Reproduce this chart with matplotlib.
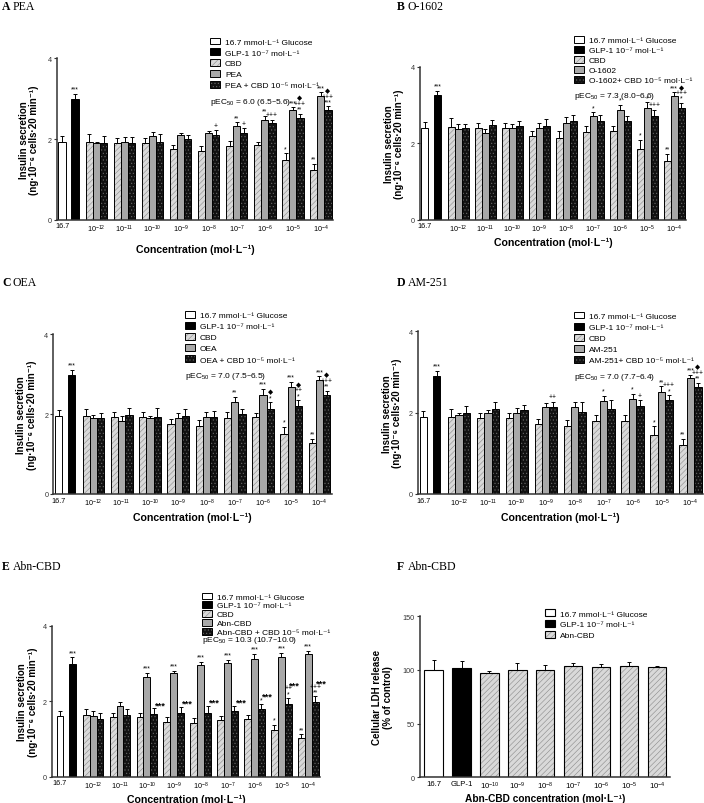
import matplotlib
matplotlib.use('Agg')
import numpy as np
import matplotlib.pyplot as plt
from matplotlib.colors import to_rgba

plt.rcParams['font.family'] = ['Liberation Sans', 'DejaVu Sans']
plt.rcParams['mathtext.default'] = 'regular'
plt.rcParams['hatch.linewidth'] = 0.4

W, H = 704, 804

conc_labels = ['10$^{-12}$', '10$^{-11}$', '10$^{-10}$', '10$^{-9}$', '10$^{-8}$',
               '10$^{-7}$', '10$^{-6}$', '10$^{-5}$', '10$^{-4}$']

# A PEA
a_ctrl = [1.93, 2.99]
a_ctrl_err = [0.15, 0.13]
a_cbd = [1.93, 1.90, 1.89, 1.75, 1.70, 1.83, 1.84, 1.49, 1.23]
a_cbd_err = [0.19, 0.12, 0.13, 0.11, 0.13, 0.12, 0.09, 0.16, 0.15]
a_ag = [1.89, 1.93, 2.07, 2.10, 2.14, 2.32, 2.48, 2.72, 3.07]
a_ag_err = [0.04, 0.13, 0.11, 0.05, 0.05, 0.09, 0.10, 0.07, 0.09]
a_mix = [1.90, 1.90, 1.93, 1.99, 2.10, 2.14, 2.39, 2.52, 2.73]
a_mix_err = [0.18, 0.14, 0.19, 0.11, 0.12, 0.13, 0.09, 0.10, 0.08]
a_cbd_sig = ['', '', '', '', '', '', '', '*', '**']
a_ag_sig = ['', '', '', '', '', '**', '**', '***', '***']
a_mix_sig = ['', '', '', '', '+', '+', '+++', '◆\n+++\n**', '◆\n+++\n***']

# B O-1602
b_ctrl = [2.41, 3.26]
b_ctrl_err = [0.15, 0.11]
b_cbd = [2.43, 2.39, 2.39, 2.18, 2.13, 2.28, 2.31, 1.86, 1.54]
b_cbd_err = [0.23, 0.15, 0.14, 0.15, 0.18, 0.16, 0.13, 0.23, 0.18]
b_ag = [2.37, 2.27, 2.39, 2.39, 2.54, 2.72, 2.87, 2.92, 3.24]
b_ag_err = [0.13, 0.10, 0.11, 0.14, 0.14, 0.09, 0.13, 0.15, 0.09]
b_mix = [2.40, 2.48, 2.44, 2.46, 2.57, 2.59, 2.59, 2.71, 2.92]
b_mix_err = [0.10, 0.13, 0.15, 0.17, 0.18, 0.16, 0.13, 0.17, 0.13]
b_cbd_sig = ['', '', '', '', '', '', '', '*', '**']
b_ag_sig = ['', '', '', '', '', '*', '*', '*', '***']
b_mix_sig = ['', '', '', '', '', '', '', '+++', '◆\n+++\n*']

# C OEA
c_ctrl = [1.95, 2.98]
c_ctrl_err = [0.15, 0.13]
c_cbd = [1.96, 1.94, 1.92, 1.75, 1.71, 1.90, 1.92, 1.50, 1.27]
c_cbd_err = [0.17, 0.12, 0.13, 0.13, 0.14, 0.15, 0.10, 0.19, 0.12]
c_ag = [1.90, 1.84, 1.90, 1.90, 1.94, 2.30, 2.49, 2.67, 2.86]
c_ag_err = [0.09, 0.12, 0.06, 0.12, 0.12, 0.14, 0.14, 0.14, 0.09]
c_mix = [1.90, 1.98, 1.94, 1.96, 1.94, 2.00, 2.13, 2.20, 2.48]
c_mix_err = [0.13, 0.17, 0.21, 0.17, 0.15, 0.13, 0.17, 0.15, 0.11]
c_cbd_sig = ['', '', '', '', '', '', '', '*', '**']
c_ag_sig = ['', '', '', '', '', '**', '***', '***', '***']
c_mix_sig = ['', '', '', '', '', '', '◆\n*', '◆\n++\n*', '◆\n+++\n**']

# D AM-251
d_ctrl = [1.89, 2.91]
d_ctrl_err = [0.16, 0.12]
d_cbd = [1.90, 1.87, 1.87, 1.72, 1.68, 1.79, 1.80, 1.46, 1.20]
d_cbd_err = [0.19, 0.12, 0.12, 0.12, 0.14, 0.15, 0.13, 0.20, 0.15]
d_ag = [1.93, 1.99, 1.99, 2.13, 2.15, 2.28, 2.34, 2.50, 2.85]
d_ag_err = [0.06, 0.08, 0.12, 0.10, 0.10, 0.14, 0.12, 0.15, 0.08]
d_mix = [1.99, 2.09, 2.07, 2.13, 2.02, 2.09, 2.17, 2.30, 2.62]
d_mix_err = [0.18, 0.18, 0.12, 0.14, 0.25, 0.21, 0.13, 0.13, 0.11]
d_cbd_sig = ['', '', '', '', '', '', '', '*', '**']
d_ag_sig = ['', '', '', '', '', '*', '*', '**', '***']
d_mix_sig = ['', '', '', '++', '', '', '+', '+++\n*', '◆\n+++\n**']

# E Abn-CBD
e_ctrl = [1.62, 2.98]
e_ctrl_err = [0.13, 0.18]
e_cbd = [1.63, 1.59, 1.59, 1.46, 1.42, 1.50, 1.53, 1.25, 1.02]
e_cbd_err = [0.16, 0.11, 0.10, 0.11, 0.13, 0.10, 0.11, 0.13, 0.11]
e_ag = [1.62, 1.86, 2.65, 2.75, 2.97, 3.00, 3.13, 3.16, 3.25]
e_ag_err = [0.13, 0.11, 0.11, 0.06, 0.08, 0.10, 0.12, 0.13, 0.09]
e_mix = [1.53, 1.64, 1.66, 1.69, 1.70, 1.73, 1.79, 1.92, 1.97]
e_mix_err = [0.16, 0.15, 0.15, 0.15, 0.18, 0.15, 0.13, 0.16, 0.16]
e_cbd_sig = ['', '', '', '', '', '', '', '*', '**']
e_ag_sig = ['', '', '***', '***', '***', '***', '***', '***', '***']
e_mix_sig = ['', '', '', '', '', '', '*', '++\n*', '+++\n**']
e_mix_big = ['', '', '***', '***', '***', '***', '***', '***', '***']

# F Abn-CBD LDH
f_labels = ['16.7', 'GLP-1', '10$^{-10}$', '10$^{-9}$', '10$^{-8}$', '10$^{-7}$',
            '10$^{-6}$', '10$^{-5}$', '10$^{-4}$']
f_ldh = [100.3, 101.5, 96.9, 100.3, 100.3, 103.4, 102.5, 104.0, 102.5]
f_ldh_err = [8.7, 6.5, 2.5, 6.2, 4.4, 2.8, 3.1, 3.8, 1.5]

CBD_FACE = '#d9d9d9'
AG_FACE = '#a8a8a8'
MIX_FACE = '#111111'
LEG_FS = 6.0

fig = plt.figure(figsize=(W / 100, H / 100), dpi=100)


def px_axes(l, t, r, b):
    return fig.add_axes([l / W, 1 - b / H, (r - l) / W, (b - t) / H])


def set_hatch_col(bars, col):
    for p in bars:
        p._hatch_color = to_rgba(col)


def up_err(ax, x, y, e):
    ax.errorbar(x, y, yerr=[np.zeros(len(e)), e], fmt='none', ecolor='black',
                elinewidth=0.7, capsize=1.6, capthick=0.7, zorder=3)


def sig_text(ax, x, tops, sigs, dy):
    for xi, t, s in zip(x, tops, sigs):
        if s:
            ax.text(xi, t + dy, s, ha='center', va='bottom', fontsize=4.8,
                    linespacing=0.72, family=['Liberation Sans', 'DejaVu Sans'])


def clean(ax):
    for s in ['top', 'right']:
        ax.spines[s].set_visible(False)
    for s in ['left', 'bottom']:
        ax.spines[s].set_linewidth(1.1)
        ax.spines[s].set_color('#333333')
    ax.tick_params(axis='x', length=0, labelsize=5.2, pad=2)
    ax.tick_params(axis='y', length=2, width=0.8, labelsize=5.2, pad=1.5, colors='#333333')


def title(x, y, letter, name):
    fig.text(x / W, 1 - y / H, letter, fontsize=8.5, weight='bold',
             family='Liberation Serif', va='center')
    fig.text((x + 10.5) / W, 1 - y / H, name, fontsize=8.5,
             family='Liberation Serif', va='center')


def insulin_panel(p):
    ax = px_axes(*p['box'])
    ctrl_x = np.array([0, 1.8])
    g = 4.8 + 3.9 * np.arange(9)
    w = 1.0

    hg = ax.bar(ctrl_x[0], p['ctrl'][0], w, color='white', edgecolor='black', linewidth=0.7)
    hl = ax.bar(ctrl_x[1], p['ctrl'][1], w, color='black', edgecolor='black', linewidth=0.7)
    hc = ax.bar(g - w, p['cbd'], w, color=CBD_FACE, edgecolor='black', linewidth=0.7,
                hatch='//////')
    set_hatch_col(hc, '#8a8a8a')
    ha = ax.bar(g, p['ag'], w, color=AG_FACE, edgecolor='black', linewidth=0.7)
    hm = ax.bar(g + w, p['mix'], w, color=MIX_FACE, edgecolor='black', linewidth=0.7,
                hatch='.....')
    set_hatch_col(hm, '#6a6a6a')

    up_err(ax, ctrl_x, p['ctrl'], p['ctrl_err'])
    up_err(ax, g - w, p['cbd'], p['cbd_err'])
    up_err(ax, g, p['ag'], p['ag_err'])
    up_err(ax, g + w, p['mix'], p['mix_err'])

    dy = 0.03
    sig_text(ax, ctrl_x, np.add(p['ctrl'], p['ctrl_err']), ['', '***'], dy)
    sig_text(ax, g - w, np.add(p['cbd'], p['cbd_err']), p['cbd_sig'], dy)
    sig_text(ax, g, np.add(p['ag'], p['ag_err']), p['ag_sig'], dy)
    mix_top = np.add(p['mix'], p['mix_err'])
    sig_text(ax, g + w, mix_top, p['mix_sig'], dy)
    if 'mix_big' in p:
        for xi, t, s, small in zip(g + w, mix_top, p['mix_big'], p['mix_sig']):
            if s:
                n = len(small.split('\n')) if small else 0
                ax.text(xi + 0.8, t - 0.02 + 0.13 * n, s, ha='center', va='bottom',
                        fontsize=6.8, weight='bold')

    ax.set_xlim(p.get('xl', -0.75), 37.7)
    ax.set_ylim(0, 4)
    ax.set_yticks([0, 2, 4])
    ax.set_xticks(np.concatenate([[0], g]))
    ax.set_xticklabels(['16.7'] + conc_labels)
    clean(ax)
    ax.set_xlabel('Concentration (mol·L⁻¹)', fontsize=7.6, weight='bold',
                  labelpad=p['xpad'])
    ax.set_ylabel('Insulin secretion\n(ng·10⁻⁶ cells·20 min⁻¹)', fontsize=7.0,
                  weight='bold', labelpad=p['ypad'], linespacing=1.1)

    name = p['name']
    labels = ['16.7 mmol·L⁻¹ Glucose', 'GLP-1 10⁻⁷ mol·L⁻¹', 'CBD', name,
              p.get('mix_name', name + ' + CBD 10⁻⁵ mol·L⁻¹')]
    lx, ly = p['leg']
    ax.legend([hg, hl, hc, ha, hm], labels, loc='upper left',
              bbox_to_anchor=(lx / W, 1 - (ly - 4.8) / H), bbox_transform=fig.transFigure,
              frameon=False, fontsize=LEG_FS, handlelength=1.2,
              handleheight=p.get('hh', 0.9), handletextpad=0.6, labelspacing=p['sp'],
              borderpad=0, borderaxespad=0)
    fig.text(lx / W, 1 - p['pec_y'] / H, p['pec'], fontsize=LEG_FS, va='center')
    title(p['title'][0], p['title'][1], p['title'][2], name)
    return ax


panels = [
    dict(box=(56.7, 59.3, 333, 220.7), ctrl=a_ctrl, ctrl_err=a_ctrl_err, cbd=a_cbd,
         cbd_err=a_cbd_err, ag=a_ag, ag_err=a_ag_err, mix=a_mix, mix_err=a_mix_err,
         cbd_sig=a_cbd_sig, ag_sig=a_ag_sig, mix_sig=a_mix_sig, name='PEA',
         pec='pEC$_{50}$ = 6.0 (6.5–5.6)', leg=(210, 43.3), pec_y=102.7, sp=0.3,
         xpad=7, ypad=6, title=(2, 7, 'A')),
    dict(box=(419.7, 67.7, 686, 220.7), ctrl=b_ctrl, ctrl_err=b_ctrl_err, cbd=b_cbd,
         cbd_err=b_cbd_err, ag=b_ag, ag_err=b_ag_err, mix=b_mix, mix_err=b_mix_err,
         cbd_sig=b_cbd_sig, ag_sig=b_ag_sig, mix_sig=b_mix_sig, name='O-1602',
         mix_name='O-1602+ CBD 10⁻⁵ mol·L⁻¹',
         pec='pEC$_{50}$ = 7.3 (8.0–6.6)', leg=(574, 41.7), pec_y=96.7, sp=0.2,
         xpad=2.5, ypad=4.5, title=(397, 7, 'B')),
    dict(box=(53.3, 335.3, 331.7, 495), ctrl=c_ctrl, ctrl_err=c_ctrl_err, cbd=c_cbd,
         cbd_err=c_cbd_err, ag=c_ag, ag_err=c_ag_err, mix=c_mix, mix_err=c_mix_err,
         cbd_sig=c_cbd_sig, ag_sig=c_ag_sig, mix_sig=c_mix_sig, name='OEA',
         pec='pEC$_{50}$ = 7.0 (7.5–6.5)', leg=(185, 316.7), pec_y=376.7, sp=0.33,
         xpad=2.5, ypad=5.5, title=(2, 283, 'C')),
    dict(box=(417.7, 332.3, 703, 495), ctrl=d_ctrl, ctrl_err=d_ctrl_err, cbd=d_cbd,
         cbd_err=d_cbd_err, ag=d_ag, ag_err=d_ag_err, mix=d_mix, mix_err=d_mix_err,
         cbd_sig=d_cbd_sig, ag_sig=d_ag_sig, mix_sig=d_mix_sig, name='AM-251',
         mix_name='AM-251+ CBD 10⁻⁵ mol·L⁻¹',
         pec='pEC$_{50}$ = 7.0 (7.7–6.4)', leg=(574, 317.3), pec_y=377.7, sp=0.33,
         xpad=2.5, ypad=4.5, title=(397, 283, 'D')),
    dict(box=(51.7, 626.7, 320, 777.7), ctrl=e_ctrl, ctrl_err=e_ctrl_err, cbd=e_cbd,
         cbd_err=e_cbd_err, ag=e_ag, ag_err=e_ag_err, mix=e_mix, mix_err=e_mix_err,
         cbd_sig=e_cbd_sig, ag_sig=e_ag_sig, mix_sig=e_mix_sig, mix_big=e_mix_big,
         name='Abn-CBD', pec='pEC$_{50}$ = 10.3 (10.7–10.0)', leg=(201.7, 598.3),
         pec_y=641, sp=0.1, hh=0.8, xpad=2.5, ypad=3.5, xl=-1.2, title=(2, 567, 'E')),
]

for p in panels:
    insulin_panel(p)

# F: LDH release
axf = px_axes(419.7, 617.3, 670.3, 778.3)
fx = np.arange(len(f_ldh))
bw = 0.66
bg = axf.bar(fx[0], f_ldh[0], bw, color='white', edgecolor='black', linewidth=0.8)
bl = axf.bar(fx[1], f_ldh[1], bw, color='black', edgecolor='black', linewidth=0.8)
bc = axf.bar(fx[2:], f_ldh[2:], bw, color=CBD_FACE, edgecolor='black', linewidth=0.8,
             hatch='//////')
set_hatch_col(bc, '#8a8a8a')
up_err(axf, fx, f_ldh, f_ldh_err)
axf.set_xlim(-0.5, 8.48)
axf.set_ylim(0, 150)
axf.set_yticks([0, 50, 100, 150])
axf.set_xticks(fx)
axf.set_xticklabels(f_labels)
clean(axf)
axf.tick_params(axis='x', labelsize=5.6)
axf.set_xlabel('Abn-CBD concentration (mol·L⁻¹)', fontsize=7.3, weight='bold', labelpad=1.5)
axf.set_ylabel('Cellular LDH release\n(% of control)', fontsize=7.0, weight='bold',
               labelpad=7, linespacing=1.1)
axf.legend([bg, bl, bc], ['16.7 mmol·L⁻¹ Glucose', 'GLP-1 10⁻⁷ mol·L⁻¹', 'Abn-CBD'],
           loc='upper left', bbox_to_anchor=(544.7 / W, 1 - (615 - 4.8) / H),
           bbox_transform=fig.transFigure, frameon=False, fontsize=LEG_FS, handlelength=1.2,
           handleheight=0.9, handletextpad=0.6, labelspacing=0.3, borderpad=0,
           borderaxespad=0)
title(397, 567, 'F', 'Abn-CBD')

fig.savefig('out.png', dpi=100)
